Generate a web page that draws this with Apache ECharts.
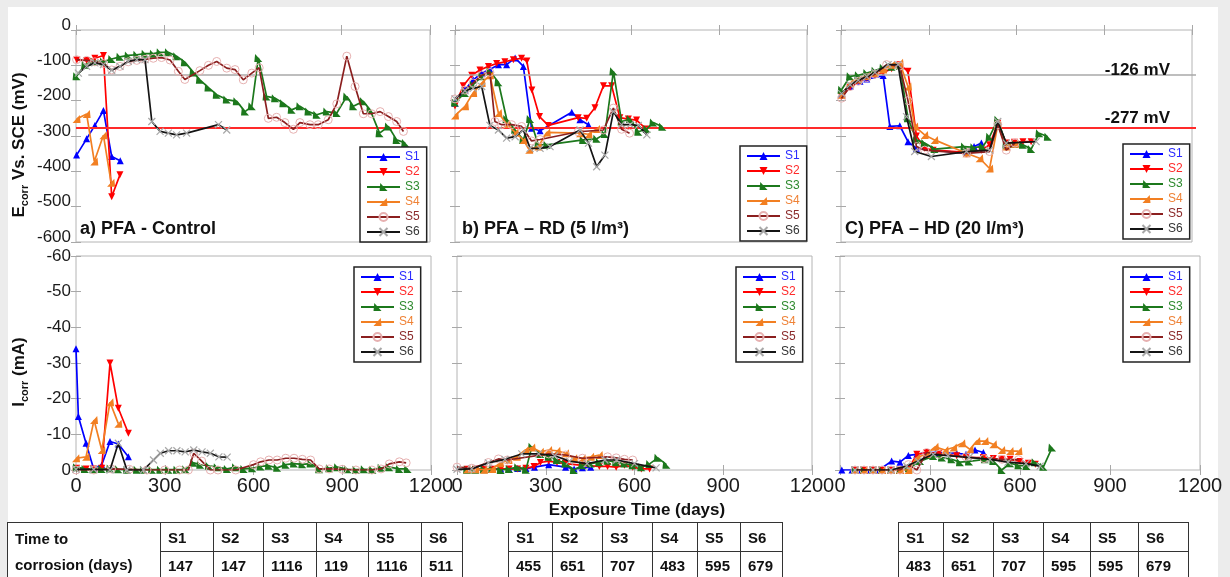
<!DOCTYPE html>
<html>
<head>
<meta charset="utf-8">
<script src="https://cdn.jsdelivr.net/npm/echarts@6/dist/echarts.min.js"></script>
<style>
  html, body { margin: 0; padding: 0; background: #ececec; }
  #sheet { position: absolute; left: 8px; top: 7px; width: 1210px; height: 570px; background: #fff; }
  #main { position: absolute; left: 0; top: 0; width: 1230px; height: 577px; }
  table.ttc { position: absolute; border-collapse: collapse; font: bold 15px "Liberation Sans", Arial, sans-serif; color: #111; }
  table.ttc td { border: 1.5px solid #333; padding: 0 0 0 7px; text-align: left; white-space: nowrap; }
  table.ttc tr.r1 td { height: 28px; }
  table.ttc tr.r2 td { height: 40px; vertical-align: top; padding-top: 5px; }
  table.ttc td.lab { vertical-align: top; line-height: 26px; padding-top: 3px; }
</style>
</head>
<body>
<div id="sheet"></div>
<div id="main"></div>
<script>
// ---- data ----
const SERIES_NAMES = ['S1', 'S2', 'S3', 'S4', 'S5', 'S6'];
const X_TICKS = [0, 300, 600, 900, 1200];
const E_RANGE = [-600, 0];
const I_RANGE = [-60, 0];
const E_LIMITS = [-126, -277];
const PANEL_TITLES = ['a) PFA - Control', 'b) PFA \u2013 RD (5 l/m\u00b3)', 'C) PFA \u2013 HD (20 l/m\u00b3)'];

// time to corrosion (days)
const TTC_CONTROL = [147, 147, 1116, 119, 1116, 511];
const TTC_RD = [455, 651, 707, 483, 595, 679];
const TTC_HD = [483, 651, 707, 595, 595, 679];

// Ecorr (mV) - control
const eA_S1 = [[2,-354],[36,-308],[64,-270],[93,-228],[121,-358],[150,-370]];
const eA_S2 = [[3,-85],[36,-86],[64,-80],[93,-72],[121,-472],[149,-410]];
const eA_S3 = [[2,-131],[31,-98],[59,-89],[93,-89],[121,-82],[149,-76],[177,-72],[206,-70],[234,-67],[262,-67],[285,-63],[313,-63],[341,-74],[369,-91],[398,-120],[420,-141],[449,-163],[477,-183],[511,-197],[545,-202],[573,-231],[596,-216],[618,-79],[646,-188],[675,-193],[703,-207],[731,-226],[759,-216],[788,-231],[816,-240],[850,-231],[884,-235],[918,-188],[940,-216],[974,-202],[997,-226],[1029,-292],[1059,-273],[1087,-311],[1116,-320]];
const eA_S4 = [[2,-252],[36,-238],[62,-372],[93,-298],[119,-432]];
const eA_S5 = [[2,-84],[36,-86],[64,-90],[93,-95],[121,-113],[149,-103],[177,-90],[206,-86],[234,-83],[262,-80],[290,-78],[319,-85],[347,-117],[369,-140],[420,-115],[449,-100],[477,-89],[511,-108],[539,-112],[567,-141],[596,-122],[621,-107],[652,-250],[680,-247],[708,-262],[737,-281],[759,-262],[793,-268],[821,-268],[855,-254],[884,-209],[918,-74],[946,-160],[974,-237],[1002,-237],[1031,-231],[1059,-245],[1087,-259],[1110,-287]];
const eA_S6 = [[8,-122],[36,-103],[64,-93],[93,-98],[121,-114],[149,-103],[177,-89],[206,-84],[234,-84],[257,-259],[285,-287],[313,-292],[341,-297],[375,-292],[483,-268],[511,-283]];

// Ecorr (mV) - RD
const eB_S1 = [[0,-207],[34,-169],[62,-141],[91,-122],[119,-112],[148,-98],[176,-98],[205,-79],[233,-103],[261,-278],[290,-285],[398,-233],[426,-254],[455,-268]];
const eB_S2 = [[0,-215],[28,-158],[57,-128],[85,-113],[114,-103],[142,-95],[170,-90],[199,-84],[227,-80],[245,-88],[262,-170],[288,-245],[318,-270],[420,-248],[449,-250],[477,-220],[506,-158],[534,-158],[562,-248],[591,-252],[619,-255],[651,-280]];
const eB_S3 = [[0,-205],[34,-178],[62,-155],[91,-131],[119,-117],[148,-148],[176,-252],[205,-283],[233,-311],[256,-252],[284,-325],[313,-325],[437,-311],[483,-308],[511,-294],[540,-117],[568,-259],[597,-252],[625,-288],[654,-280],[676,-262],[707,-274]];
const eB_S4 = [[0,-242],[34,-216],[62,-178],[91,-150],[119,-128],[148,-235],[176,-266],[205,-290],[233,-311],[253,-339],[284,-330],[313,-290],[426,-292],[455,-295],[483,-280]];
const eB_S5 = [[0,-195],[34,-170],[62,-150],[91,-128],[119,-120],[136,-259],[159,-268],[193,-268],[227,-273],[261,-314],[290,-310],[420,-288],[506,-283],[540,-221],[568,-281],[595,-292]];
const eB_S6 = [[0,-195],[34,-172],[62,-165],[91,-160],[119,-270],[148,-283],[176,-306],[205,-302],[233,-283],[256,-335],[290,-335],[324,-330],[426,-283],[455,-320],[483,-387],[511,-354],[540,-231],[568,-268],[597,-268],[625,-270],[654,-297]];

// Ecorr (mV) - HD
const eC_S1 = [[2,-183],[31,-160],[65,-145],[88,-139],[144,-129],[167,-273],[201,-271],[229,-316],[258,-335],[429,-349],[455,-330],[480,-320]];
const eC_S2 = [[2,-188],[31,-162],[65,-145],[88,-135],[116,-128],[144,-120],[173,-110],[201,-98],[229,-117],[258,-300],[286,-335],[315,-340],[429,-346],[480,-340],[508,-325],[536,-264],[565,-320],[593,-318],[622,-316],[650,-316]];
const eC_S3 = [[2,-169],[31,-131],[59,-128],[88,-122],[116,-115],[144,-107],[173,-104],[201,-101],[229,-250],[258,-311],[286,-320],[320,-337],[422,-330],[454,-332],[485,-330],[508,-302],[536,-254],[565,-325],[593,-322],[622,-325],[650,-337],[678,-292],[707,-302]];
const eC_S4 = [[2,-183],[31,-150],[59,-140],[88,-130],[116,-122],[144,-112],[173,-98],[201,-93],[229,-160],[252,-273],[286,-297],[320,-311],[429,-349],[474,-363],[508,-392],[536,-268],[565,-330],[595,-322]];
const eC_S5 = [[2,-193],[31,-160],[59,-145],[88,-135],[116,-125],[156,-98],[201,-102],[229,-200],[258,-330],[286,-340],[429,-349],[508,-344],[536,-268],[565,-340],[595,-320]];
const eC_S6 = [[2,-180],[31,-155],[59,-142],[88,-132],[116,-120],[161,-98],[195,-98],[224,-245],[252,-344],[309,-358],[429,-344],[508,-340],[536,-259],[565,-320],[667,-316]];

// Icorr (mA) - control
const iA_S1 = [[0,-34],[8,-15],[34,-7.5],[59,-0.5],[87,-1.4],[115,-8],[143,-7.3],[177,-3.7]];
const iA_S2 = [[2,-0.5],[34,-0.3],[59,-0.3],[87,-0.5],[115,-30],[143,-17.3],[177,-10.3]];
const iA_S3 = [[1,-0.8],[30,-0.3],[59,-0.2],[87,-0.3],[115,-0.4],[143,-0.2],[172,-0.1],[206,-0.1],[228,-0.1],[257,-0.1],[285,-0.1],[313,-0.1],[341,-0.1],[370,-0.2],[398,-2.0],[420,-1.5],[449,-1.2],[477,-0.8],[511,-0.3],[539,-0.8],[567,-0.3],[596,-0.5],[624,-1.0],[652,-1.2],[680,-0.6],[709,-1.5],[737,-1.8],[765,-1.6],[793,-1.8],[822,-0.2],[856,-0.5],[884,-0.8],[918,-0.2],[946,-0.1],[974,-0.2],[1002,-0.1],[1031,-0.6],[1059,-0.8],[1093,-0.3],[1121,-0.3]];
const iA_S4 = [[0,-3.3],[34,-3.7],[61,-14],[87,-5.6],[115,-19],[143,-13]];
const iA_S5 = [[0,0],[60,0],[120,-0.3],[180,-0.2],[240,0],[300,0],[350,0],[380,0],[398,-4.7],[425,-2.5],[454,0],[480,0],[540,0],[600,-1.5],[624,-2.3],[652,-2.8],[680,-2.8],[709,-3.3],[737,-3.3],[765,-3.0],[793,-2.8],[822,-0.3],[856,-0.3],[900,-0.2],[946,0],[1000,0],[1031,-0.3],[1059,-1.7],[1093,-2.3],[1116,-2.0]];
const iA_S6 = [[0,-0.2],[60,-0.2],[115,0],[143,-7.5],[172,0],[228,0],[262,-2.8],[285,-4.7],[313,-5.4],[341,-5.4],[369,-5.1],[398,-5.6],[426,-5.1],[454,-4.7],[483,-3.7],[511,-3.6]];

// Icorr (mA) - RD
const iB_S1 = [[34,-0.2],[62,-0.2],[91,-0.2],[119,-0.3],[148,-0.3],[176,-0.3],[205,-0.4],[233,-0.4],[262,-0.8],[310,-1.5],[367,-0.8],[396,-0.3],[424,-0.6],[452,-0.8]];
const iB_S2 = [[34,-0.2],[62,-0.2],[91,-0.2],[119,-0.2],[148,-0.3],[176,-0.3],[205,-0.3],[233,-0.5],[260,-1.0],[282,-2.1],[310,-2.5],[338,-2.1],[367,-1.8],[424,-1.3],[481,-1.0],[509,-1.0],[538,-0.8],[566,-1.3],[594,-0.8],[623,-0.3],[651,-0.3]];
const iB_S3 = [[34,-0.1],[62,-0.1],[91,-0.2],[119,-0.3],[148,0],[176,-0.3],[205,-0.8],[233,-0.1],[253,-6.5],[282,-4.5],[310,-3.7],[338,-2.8],[367,-1.8],[395,0],[424,-1.3],[452,-1.8],[481,-2.2],[509,-2.6],[538,-2.2],[566,-1.8],[594,-1.3],[623,-0.8],[651,-1.7],[679,-3.4],[708,-1.5]];
const iB_S4 = [[34,-0.2],[62,-0.2],[91,-0.1],[119,-0.3],[145,-1.9],[174,-2.8],[202,-3.7],[231,-5.6],[253,-6.3],[282,-5.1],[310,-5.6],[338,-5.4],[367,-4.7],[395,-3.3],[424,-3.3],[452,-3.7],[481,-4.2]];
const iB_S5 = [[0,-0.8],[50,-0.5],[106,-2.1],[140,-3.1],[170,-2.8],[310,-4.5],[367,-4.2],[424,-3.3],[509,-3.7],[538,-3.4],[566,-3.0],[594,-2.8]];
const iB_S6 = [[0,-0.2],[50,-0.3],[106,-2.0],[162,-3.0],[219,-4.5],[276,-4.5],[330,-4.0],[380,-2.5],[440,-1.8],[500,-2.8],[540,-2.8],[600,-1.8],[673,-0.6]];

// Icorr (mA) - HD
const iC_S1 = [[6,0],[40,0],[70,0],[100,0],[130,0],[172,-2.5],[200,-2.2],[228,-4.1],[256,-4.4],[289,-4.9],[320,-4.9],[389,-4.7],[420,-4.4],[450,-5.6],[478,-4.9]];
const iC_S2 = [[50,0],[80,0],[110,0],[140,0],[170,0],[200,0],[228,-0.3],[256,-4.4],[289,-4.9],[330,-4.7],[389,-4.0],[420,-3.5],[478,-3.5],[511,-3.2],[539,-3.0],[567,-3.0],[600,-2.4],[628,-1.9],[651,-1.6]];
const iC_S3 = [[50,0],[80,0],[110,0],[140,0],[170,0],[200,0],[230,-0.5],[267,-2.5],[311,-3.9],[340,-3.5],[372,-3.0],[400,-2.2],[430,-2.4],[483,-3.0],[511,-2.5],[539,0],[567,-1.9],[595,-1.3],[622,-1.1],[650,-2.2],[678,-0.9],[707,-6.3]];
const iC_S4 = [[50,0],[80,0],[110,0],[140,0],[170,0],[200,0],[228,0],[256,-3.5],[289,-4.5],[317,-6.5],[350,-5.6],[378,-6.3],[406,-7.5],[433,-5.8],[456,-8.1],[483,-8.1],[511,-7.2],[539,-5.6],[567,-5.3],[595,-5.3]];
const iC_S5 = [[50,0],[80,0],[110,0],[140,0],[170,0],[200,0],[228,-1.5],[256,0],[289,-4.9],[330,-4.4],[420,-3.7],[480,-3.2],[540,-3.0],[595,-2.9]];
const iC_S6 = [[50,0],[110,0],[170,0],[222,-1.1],[260,-2.5],[311,-4.4],[360,-4.0],[430,-3.5],[500,-3.0],[560,-2.2],[620,-1.8],[667,-1.1]];

// ---- styles ----
const FONT = '"Liberation Sans", Arial, sans-serif';
const STYLES = [
  { color: '#0000ff', text: '#2a2aff', symbol: 'triangle', size: 7 },
  { color: '#ff0000', text: '#ff2a2a', symbol: 'triangle', rotate: 180, size: 7 },
  { color: '#1c781c', text: '#2e8a2e', symbol: 'path://M1,0L10,10L0,10Z', size: 8 },
  { color: '#f27f22', text: '#ef8236', symbol: 'path://M9,0L10,10L0,10Z', size: 8 },
  { color: '#8b1f1f', mark: '#e6b0b0', text: '#8b2a2a', symbol: 'circle', size: 8 },
  { color: '#141414', mark: '#a8a8a8', text: '#333333', symbol: 'path://M0,0L10,10M10,0L0,10', size: 7 }
];

const panels = [
  { grid: { left: 76, top: 30, width: 354, height: 212 }, range: E_RANGE, data: [eA_S1, eA_S2, eA_S3, eA_S4, eA_S5, eA_S6], legend: { left: 360, top: 147 }, yLabels: true, xLabels: false },
  { grid: { left: 455, top: 30, width: 352, height: 212 }, range: E_RANGE, data: [eB_S1, eB_S2, eB_S3, eB_S4, eB_S5, eB_S6], legend: { left: 740, top: 146 }, yLabels: false, xLabels: false },
  { grid: { left: 841, top: 30, width: 351, height: 212 }, range: E_RANGE, data: [eC_S1, eC_S2, eC_S3, eC_S4, eC_S5, eC_S6], legend: { left: 1123, top: 144 }, yLabels: false, xLabels: false },
  { grid: { left: 76, top: 256, width: 355, height: 214 }, range: I_RANGE, data: [iA_S1, iA_S2, iA_S3, iA_S4, iA_S5, iA_S6], legend: { left: 354, top: 267 }, yLabels: true, xLabels: true, inverse: true },
  { grid: { left: 457, top: 256, width: 355, height: 214 }, range: I_RANGE, data: [iB_S1, iB_S2, iB_S3, iB_S4, iB_S5, iB_S6], legend: { left: 736, top: 267 }, yLabels: false, xLabels: true, inverse: true },
  { grid: { left: 840, top: 256, width: 360, height: 214 }, range: I_RANGE, data: [iC_S1, iC_S2, iC_S3, iC_S4, iC_S5, iC_S6], legend: { left: 1123, top: 267 }, yLabels: false, xLabels: true, inverse: true }
];

const chart = echarts.init(document.getElementById('main'), null, { renderer: 'canvas' });

const tick = { show: true, inside: true, length: 5, lineStyle: { color: '#a8a8a8', width: 1 } };
const grids = [], xAxes = [], yAxes = [], series = [], legends = [];

panels.forEach((p, k) => {
  grids.push(Object.assign({ show: true, borderColor: '#b4b4b4', borderWidth: 1, containLabel: false }, p.grid));
  const xStep = X_TICKS[1] - X_TICKS[0];
  const xBase = { gridIndex: k, type: 'value', min: X_TICKS[0], max: X_TICKS[X_TICKS.length - 1], interval: xStep, axisLine: { show: false }, splitLine: { show: false }, axisTick: tick };
  xAxes.push(Object.assign({}, xBase, { position: 'bottom', axisLabel: { show: p.xLabels, fontSize: 20, color: '#1a1a1a', fontFamily: FONT, margin: 6, formatter: v => String(v) } }));
  xAxes.push(Object.assign({}, xBase, { position: 'top', axisLabel: { show: false } }));
  const yStep = p.range === E_RANGE ? 100 : 10;
  const yBase = { gridIndex: k, type: 'value', min: p.range[0], max: p.range[1], interval: yStep, inverse: !!p.inverse, axisLine: { show: false }, splitLine: { show: false }, axisTick: tick };
  const yLab = { show: p.yLabels, fontSize: 17, color: '#1a1a1a', fontFamily: FONT, margin: 5 };
  if (!p.inverse) { yLab.verticalAlign = 'bottom'; yLab.lineHeight = 10; }
  yAxes.push(Object.assign({}, yBase, { position: 'left', axisLabel: yLab }));
  yAxes.push(Object.assign({}, yBase, { position: 'right', axisLabel: { show: false } }));

  p.data.forEach((d, s) => {
    const st = STYLES[s];
    series.push({
      type: 'line', name: SERIES_NAMES[s], xAxisIndex: 2 * k, yAxisIndex: 2 * k, data: d,
      symbol: st.symbol, symbolSize: st.size, symbolRotate: st.rotate || 0, showAllSymbol: true,
      color: st.color, z: 3 + s, animation: false, silent: true,
      lineStyle: { color: st.color, width: 1.7 },
      itemStyle: s === 4 ? { color: 'rgba(255,255,255,0)', borderColor: st.mark, borderWidth: 1 }
               : s === 5 ? { color: 'rgba(255,255,255,0)', borderColor: st.mark, borderWidth: 1.2 }
               : { color: st.color }
    });
  });

  legends.push({
    left: p.legend.left, top: p.legend.top, orient: 'vertical', selectedMode: false,
    itemWidth: 33, itemHeight: 10, itemGap: 3, itemTextGap: 3, padding: [4, 7, 4, 6],
    borderColor: '#222', borderWidth: 1.5, backgroundColor: '#fff', z: 20,
    textStyle: { fontSize: 12, fontFamily: FONT, lineHeight: 12 },
    data: SERIES_NAMES.map((n, s) => ({ name: n, textStyle: { color: STYLES[s].text } }))
  });
});

// overlay grid for the two threshold lines across the top row
grids.push({ left: 76, top: 30, width: 1120, height: 212, show: false });
xAxes.push({ gridIndex: 6, type: 'value', min: 0, max: 1, show: false });
yAxes.push({ gridIndex: 6, type: 'value', min: E_RANGE[0], max: E_RANGE[1], show: false });
series.push({
  type: 'line', xAxisIndex: 12, yAxisIndex: 12, data: [], silent: true, z: 2,
  markLine: {
    silent: true, symbol: 'none', animation: false, label: { show: false },
    data: [
      [{ coord: [0.011, E_LIMITS[0]], lineStyle: { color: '#a9a9a9', width: 1.5, type: 'solid' } }, { coord: [1, E_LIMITS[0]] }],
      [{ coord: [0, E_LIMITS[1]], lineStyle: { color: '#ff2a2a', width: 2, type: 'solid' } }, { coord: [1, E_LIMITS[1]] }]
    ]
  }
});

const bold17 = { fontSize: 17, fontWeight: 'bold', fontFamily: FONT, fill: '#111' };
const bold18 = { fontSize: 18, fontWeight: 'bold', fontFamily: FONT, fill: '#111' };
const subRich = {
  m: { fontSize: 17, fontWeight: 'bold', fontFamily: FONT, lineHeight: 22, fill: '#111' },
  s: { fontSize: 11, fontWeight: 'bold', fontFamily: FONT, lineHeight: 10, verticalAlign: 'bottom', fill: '#111' }
};
const graphics = [
  { type: 'text', left: 80, top: 220, z: 30, style: Object.assign({ text: PANEL_TITLES[0] }, bold18) },
  { type: 'text', left: 462, top: 220, z: 30, style: Object.assign({ text: PANEL_TITLES[1] }, bold18) },
  { type: 'text', left: 845, top: 220, z: 30, style: Object.assign({ text: PANEL_TITLES[2] }, bold18) },
  { type: 'text', x: 1170, y: 70, z: 30, style: Object.assign({ text: E_LIMITS[0] + ' mV', align: 'right', verticalAlign: 'middle' }, bold17) },
  { type: 'text', x: 1170, y: 118, z: 30, style: Object.assign({ text: E_LIMITS[1] + ' mV', align: 'right', verticalAlign: 'middle' }, bold17) },
  { type: 'text', x: 637, y: 510, z: 30, style: Object.assign({ text: 'Exposure Time (days)', align: 'center', verticalAlign: 'middle' }, bold17) },
  { type: 'text', x: 19, y: 145, rotation: Math.PI / 2, z: 30,
    style: { text: '{m|E}{s|corr}{m| Vs. SCE (mV)}', align: 'center', verticalAlign: 'middle', rich: subRich } },
  { type: 'text', x: 19, y: 372, rotation: Math.PI / 2, z: 30,
    style: { text: '{m|I}{s|corr}{m| (mA)}', align: 'center', verticalAlign: 'middle', rich: subRich } }
];

chart.setOption({
  animation: false,
  backgroundColor: 'transparent',
  grid: grids, xAxis: xAxes, yAxis: yAxes, legend: legends, series: series, graphic: graphics
});

// tables of time to corrosion
function makeTable(values, left, widths, withLabel) {
  const t = document.createElement('table');
  t.className = 'ttc';
  t.style.left = left + 'px';
  t.style.top = '522px';
  const r1 = document.createElement('tr'); r1.className = 'r1';
  const r2 = document.createElement('tr'); r2.className = 'r2';
  let w = 0;
  if (withLabel) {
    const c = document.createElement('td');
    c.rowSpan = 2; c.className = 'lab';
    c.innerHTML = 'Time to<br>corrosion (days)';
    c.style.width = (widths[w++] - 8) + 'px';
    r1.appendChild(c);
  }
  SERIES_NAMES.forEach((n, i) => {
    const h = document.createElement('td'); h.textContent = n; h.style.width = (widths[w] - 8) + 'px';
    const v = document.createElement('td'); v.textContent = values[i]; v.style.width = (widths[w] - 8) + 'px';
    w++;
    r1.appendChild(h); r2.appendChild(v);
  });
  t.appendChild(r1); t.appendChild(r2);
  document.body.appendChild(t);
}
makeTable(TTC_CONTROL, 7, [153, 53, 50, 53, 52, 53, 41], true);
makeTable(TTC_RD, 508, [44, 50, 50, 45, 43, 42], false);
makeTable(TTC_HD, 898, [45, 50, 50, 47, 48, 50], false);
</script>
</body>
</html>
